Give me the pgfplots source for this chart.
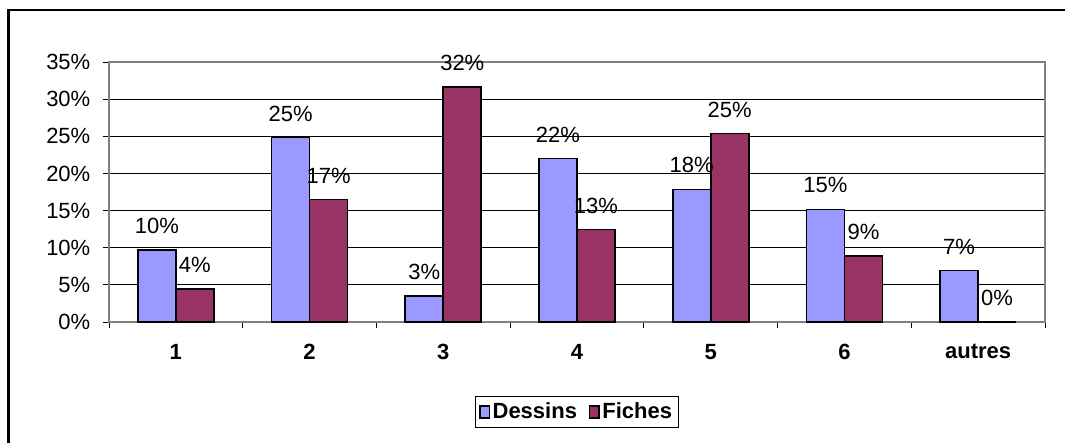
\documentclass[border=0pt]{standalone}
\usepackage{pgfplots}
\pgfplotsset{compat=1.18}
\usepackage{fontspec}
\setmainfont{Liberation Sans}
\definecolor{dess}{HTML}{9999FF}
\definecolor{fich}{HTML}{993366}
\newcommand\fs{\fontsize{16.5}{19}\selectfont}
\begin{document}
\begin{tikzpicture}
\clip (0,0) rectangle (798.75pt,332.25pt);
\draw[line width=1.8pt] (6.4pt,-20pt) rectangle (830pt,324.75pt);
\begin{axis}[
 at={(81.75pt,90.75pt)}, anchor=south west,
 scale only axis, width=702pt, height=195pt,
 ybar=0pt, bar width=28.5pt,
 xmin=-0.5, xmax=6.5, ymin=0, ymax=35,
 xtick={-0.5,0.5,...,6.5}, xticklabels={},
 extra x ticks={0,1,2,3,4,5,6},
 extra x tick labels={1,2,3,4,5,6,autres},
 extra x tick style={major tick length=0pt, xticklabel style={font=\fs\bfseries, yshift=-13pt}},
 ytick={0,5,...,35}, yticklabels={0\%,5\%,10\%,15\%,20\%,25\%,30\%,35\%},
 xtick pos=left, ytick pos=left,
 tick align=outside, major tick length=4.5pt,
 tick style={black, line width=0.6pt},
 ymajorgrids, grid style={black, line width=0.75pt},
 axis line style={draw=black!50, line width=1.2pt},
 yticklabel style={font=\fs, xshift=-6pt},
 nodes near coords={\pgfplotspointmeta\%}, point meta=explicit symbolic,
 nodes near coords style={font=\fs, anchor=center, yshift=18pt},
 legend style={at={(0.5,-0.346)}, anchor=center, legend columns=2, font=\fs\bfseries, draw=black, line width=0.75pt, inner sep=3pt, /tikz/every even column/.append style={column sep=7pt}},
 legend image code/.code={\draw[#1, line width=1pt] (0pt,-4.5pt) rectangle (7pt,4.5pt);},
 clip=false,
]
\addplot[fill=dess, draw=black, line width=1.2pt] coordinates {(0,9.71)[10] (1,24.84)[25] (2,3.49)[3] (3,22.02)[22] (4,17.86)[18] (5,15.17)[15] (6,6.94)[7]};
\addplot[fill=fich, draw=black, line width=1.2pt] coordinates {(0,4.48)[4] (1,16.47)[17] (2,31.64)[32] (3,12.44)[13] (4,25.38)[25] (5,8.91)[9] (6,0)[0]};
\legend{Dessins,Fiches}
\end{axis}
\end{tikzpicture}
\end{document}
